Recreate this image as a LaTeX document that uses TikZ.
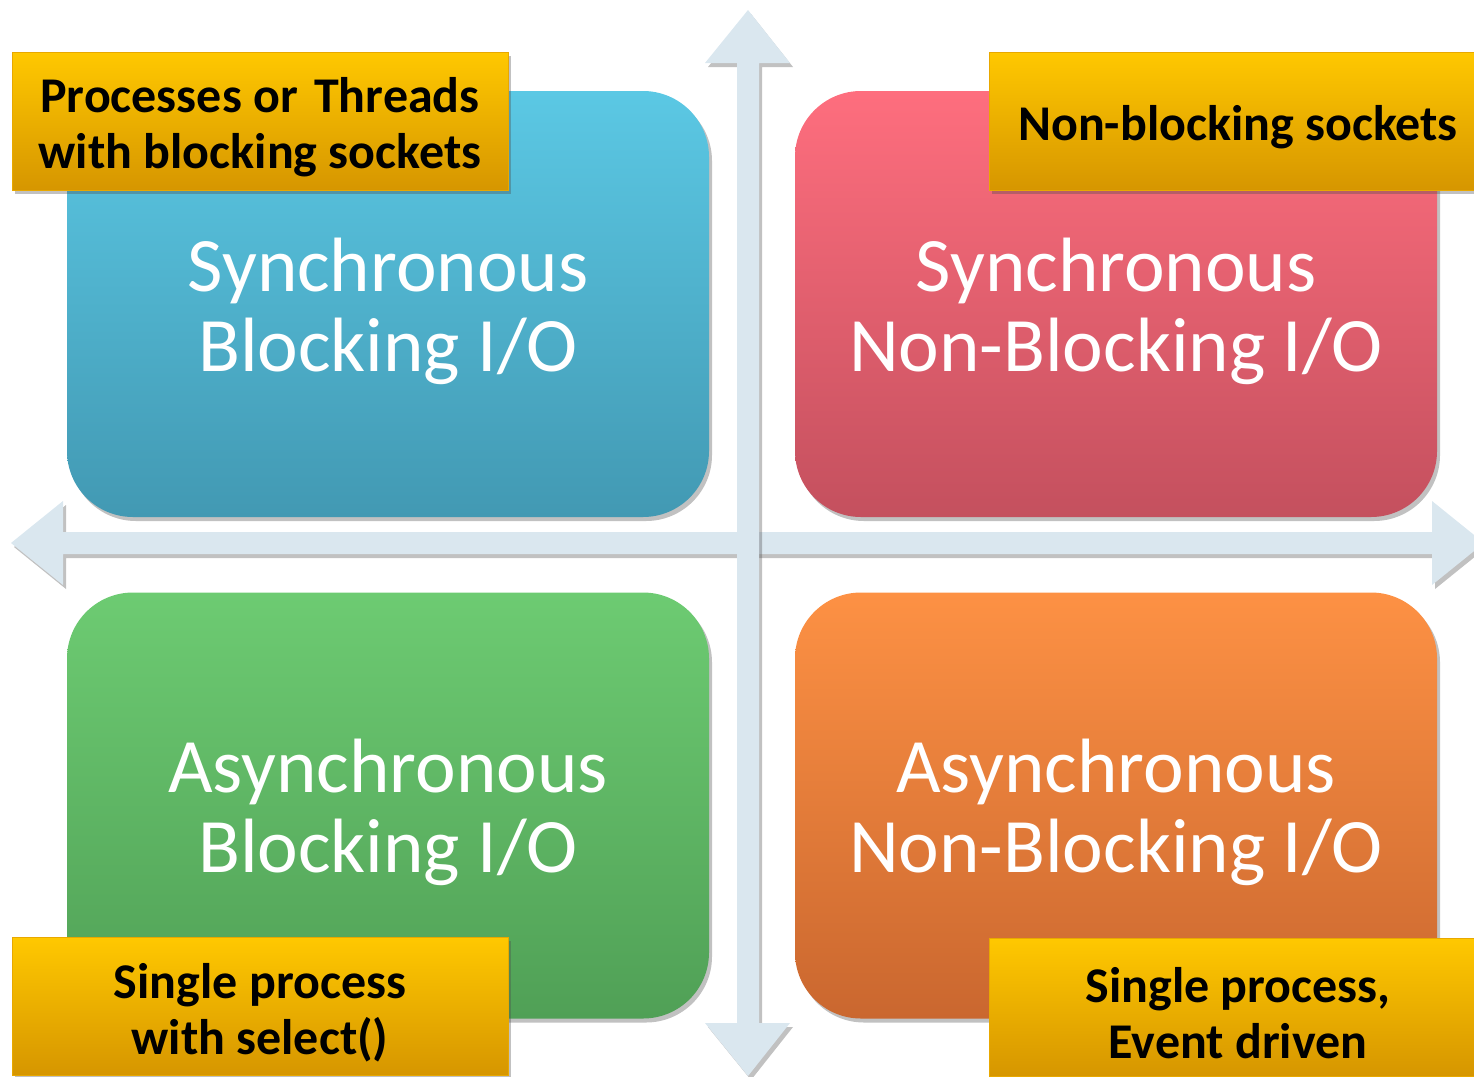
\documentclass[tikz,border=0pt]{standalone}
\usepackage{fontspec}
\setmainfont{Carlito}
\usetikzlibrary{shadows}
\definecolor{arrowc}{HTML}{DAE7EF}
\definecolor{blueT}{HTML}{5BC8E4}
\definecolor{blueB}{HTML}{4299B3}
\definecolor{redT}{HTML}{FE6E7E}
\definecolor{redB}{HTML}{C4505E}
\definecolor{greenT}{HTML}{6DCB72}
\definecolor{greenB}{HTML}{50A056}
\definecolor{orangeT}{HTML}{FD9144}
\definecolor{orangeB}{HTML}{CA672F}
\definecolor{yelT}{HTML}{FFC800}
\definecolor{yelB}{HTML}{D69600}
\definecolor{yelE}{HTML}{E8A800}
\newcommand\padM{\rule{0pt}{68pt}}
\newcommand\padL{\rule{0pt}{48pt}}
\begin{document}
\begin{tikzpicture}[x=1pt,y=-1pt,
  softshadow/.style={drop shadow={shadow xshift=3pt,shadow yshift=-4pt,opacity=0.35,fill=black!70}},
  mainbox/.style={rounded corners=66pt,minimum width=642pt,minimum height=426pt,inner sep=0pt,
    text=white,align=center,font=\fontsize{77}{80}\selectfont,softshadow},
  lbl/.style={draw=yelE,line width=1pt,top color=yelT,bottom color=yelB,minimum width=496pt,minimum height=138pt,
    inner sep=0pt,align=center,font=\fontsize{50}{56}\selectfont\bfseries,text=black,softshadow}]
\useasboundingbox (0,0) rectangle (1474,1076);
\clip (0,0) rectangle (1474,1076);
% axes
\fill[arrowc,softshadow] (11,543) -- (63,501) -- (63,532) -- (1432,532) -- (1432,501) -- (1484,543)
  -- (1432,585) -- (1432,554) -- (63,554) -- (63,585) -- cycle;
\fill[arrowc,softshadow] (748,10) -- (790,63) -- (759,63) -- (759,1023) -- (790,1023) -- (748,1076)
  -- (705,1023) -- (737,1023) -- (737,63) -- (705,63) -- cycle;
% quadrants
\node[mainbox,top color=blueT,bottom color=blueB] (sb) at (388,304) {\padM Synchronous\\Blocking I/O};
\node[mainbox,top color=redT,bottom color=redB] (snb) at (1116,304) {\padM Synchronous\\Non-Blocking I/O};
\node[mainbox,top color=greenT,bottom color=greenB] (ab) at (388,805.5) {\padM Asynchronous\\Blocking I/O};
\node[mainbox,top color=orangeT,bottom color=orangeB] (anb) at (1116,805.5) {\padM Asynchronous\\Non-Blocking I/O};
% labels
\node[lbl] (l1) at (260,121) {\padL Processes or\hspace{5pt} Threads\\with blocking sockets};
\node[lbl,minimum width=498pt] (l2) at (1238,121) {\padL Non-blocking sockets};
\node[lbl] (l3) at (260,1006) {\padL Single process\\with select()};
\node[lbl,minimum width=498pt] (l4) at (1238,1007) {\padL Single process,\\Event driven};
\end{tikzpicture}
\end{document}
